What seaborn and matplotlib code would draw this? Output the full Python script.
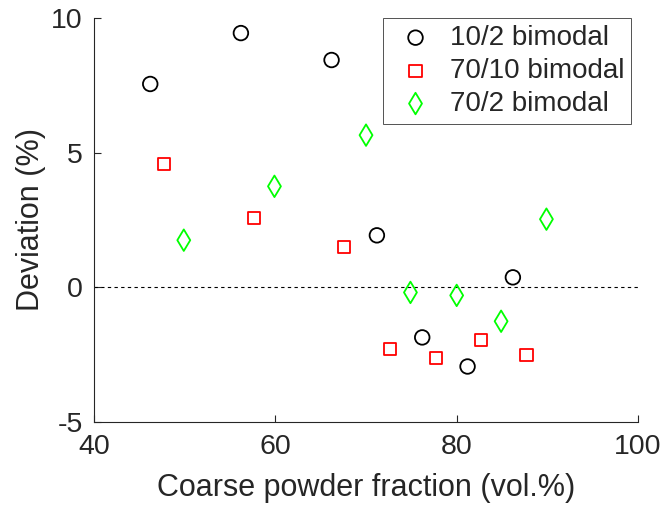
import matplotlib
matplotlib.use("Agg")
import matplotlib.pyplot as plt
import seaborn as sns
import pandas as pd

sns.set_style("ticks")
plt.rcParams['font.family'] = ['Liberation Sans', 'DejaVu Sans']
plt.rcParams['axes.unicode_minus'] = False

x_102 = [46.2, 56.2, 66.2, 71.2, 76.2, 81.2, 86.2]
y_102 = [7.55, 9.44, 8.44, 1.93, -1.86, -2.94, 0.37]
x_7010 = [47.7, 57.6, 67.6, 72.6, 77.7, 82.7, 87.7]
y_7010 = [4.57, 2.57, 1.49, -2.30, -2.64, -1.97, -2.53]
x_702 = [49.9, 59.9, 70.0, 74.9, 80.0, 84.9, 89.9]
y_702 = [1.75, 3.75, 5.65, -0.19, -0.30, -1.26, 2.53]
labels = ["10/2 bimodal", "70/10 bimodal", "70/2 bimodal"]
xticks = [40, 60, 80, 100]
yticks = [-5, 0, 5, 10]

fig = plt.figure(figsize=(6.65, 5.07), dpi=100)
ax = fig.add_axes([0.1414, 0.1677, 0.818, 0.7968])

series = [(x_102, y_102, 'o', (0, 0, 0), 110),
          (x_7010, y_7010, 's', (1, 0, 0), 75),
          (x_702, y_702, 'd', (0, 1, 0), 120)]
for (xs, ys, m, c, s), lab in zip(series, labels):
    sns.scatterplot(x=xs, y=ys, marker=m, s=s, fc='none', ec=c,
                    linewidth=1.3, label=lab, ax=ax, zorder=3)

ax.axhline(0, color='black', linestyle=(0, (3, 3)), linewidth=0.8, zorder=1)

ax.set_xlim(40, 100)
ax.set_ylim(-5, 10)
ax.set_xticks(xticks)
ax.set_yticks(yticks)
ax.set_xlabel("Coarse powder fraction (vol.%)", fontsize=22, color='#262626',
              labelpad=9)
ax.set_ylabel("Deviation (%)", fontsize=22, color='#262626', labelpad=4)
ax.tick_params(direction='in', length=5, width=0.8, labelsize=20.5,
               colors='#262626', labelcolor='#262626')
ax.tick_params(axis='y', pad=8)
ax.tick_params(axis='x', pad=9)
for sp in ['top', 'right']:
    ax.spines[sp].set_visible(False)
for sp in ['left', 'bottom']:
    ax.spines[sp].set_color('#262626')
    ax.spines[sp].set_linewidth(0.8)

leg = ax.legend(loc='upper right', bbox_to_anchor=(0.9871, 1.0),
                bbox_transform=ax.transAxes, fontsize=20, frameon=True,
                fancybox=False, borderpad=0.25, labelspacing=0.25,
                handlelength=1.85, handletextpad=0.3, borderaxespad=0.0)
leg.get_frame().set_edgecolor('#262626')
leg.get_frame().set_linewidth(0.7)

fig.savefig("out.png", dpi=100)
